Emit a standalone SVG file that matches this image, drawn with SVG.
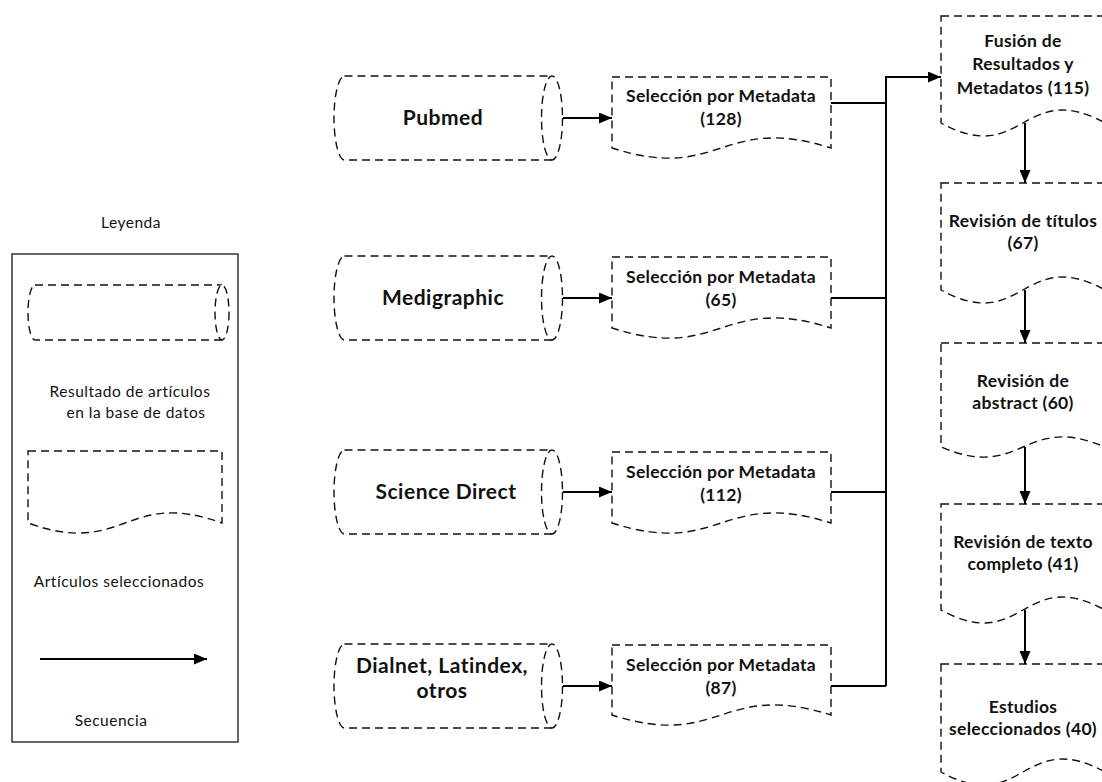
<svg xmlns="http://www.w3.org/2000/svg" width="1102" height="782" viewBox="0 0 1102 782">
<style>
.sh{fill:#fff;stroke:#111;stroke-width:1.4;stroke-dasharray:8 5}
.cn{fill:none;stroke:#000;stroke-width:2}
.t{font-family:Lato,"Liberation Sans",sans-serif;fill:#111;text-anchor:middle}
.b{font-weight:bold;font-size:17.5px;letter-spacing:0.3px}
.big{font-weight:bold;font-size:21px;letter-spacing:0.5px}
.r{font-size:15.5px;letter-spacing:0.5px}
</style>
<defs>
<marker id="ah" markerUnits="userSpaceOnUse" markerWidth="13" markerHeight="11" refX="13" refY="5.5" orient="auto">
<path d="M0,0 L13,5.5 L0,11 z" fill="#000"/>
</marker>
</defs>
<rect width="1102" height="782" fill="#fff"/>

<g id="legend">
<rect x="12" y="254" width="226" height="488" fill="#fff" stroke="#333" stroke-width="1.5"/>
<text class="t r" x="131" y="228">Leyenda</text>
<path class="sh" d="M35,285 H222 M222,340 H35 A7,27.5 0 0 1 35,285"/>
<ellipse class="sh" cx="222" cy="312.5" rx="7" ry="27.5" fill="none"/>
<text class="t r" x="130" y="397">Resultado de artículos</text>
<text class="t r" x="136" y="418">en la base de datos</text>
<path class="sh" d="M28,451 H222 V523 C125,488 125,558 28,523 Z"/>
<text class="t r" x="119" y="587">Artículos seleccionados</text>
<line class="cn" x1="40" y1="659" x2="207" y2="659" marker-end="url(#ah)"/>
<text class="t r" x="111" y="726">Secuencia</text>
</g>

<g id="db-pubmed">
<path class="sh" d="M344.5,76 H552 M552,160 H344.5 A10.5,42 0 0 1 344.5,76"/>
<ellipse class="sh" cx="552" cy="118" rx="10.5" ry="42"/>
<text class="t big" x="443" y="125">Pubmed</text>
</g>
<g id="db-medigraphic">
<path class="sh" d="M344.5,256 H552 M552,340 H344.5 A10.5,42 0 0 1 344.5,256"/>
<ellipse class="sh" cx="552" cy="298" rx="10.5" ry="42"/>
<text class="t big" x="443" y="305">Medigraphic</text>
</g>
<g id="db-science">
<path class="sh" d="M344.5,450 H552 M552,534 H344.5 A10.5,42 0 0 1 344.5,450"/>
<ellipse class="sh" cx="552" cy="492" rx="10.5" ry="42"/>
<text class="t big" x="446" y="499">Science Direct</text>
</g>
<g id="db-dialnet">
<path class="sh" d="M344.5,644 H552 M552,728 H344.5 A10.5,42 0 0 1 344.5,644"/>
<ellipse class="sh" cx="552" cy="686" rx="10.5" ry="42"/>
<text class="t big" x="442" y="673">Dialnet, Latindex,</text>
<text class="t big" x="442" y="698">otros</text>
</g>

<g id="sel-1">
<path class="sh" d="M612,77 H831 V148 C721,113 721,183 612,148 Z"/>
<text class="t b" x="721" y="102">Selección por Metadata</text>
<text class="t b" x="721" y="125">(128)</text>
</g>
<g id="sel-2">
<path class="sh" d="M612,257 H831 V328 C721,293 721,363 612,328 Z"/>
<text class="t b" x="721" y="283">Selección por Metadata</text>
<text class="t b" x="721" y="306">(65)</text>
</g>
<g id="sel-3">
<path class="sh" d="M612,452 H831 V523 C721,488 721,558 612,523 Z"/>
<text class="t b" x="721" y="478">Selección por Metadata</text>
<text class="t b" x="721" y="501">(112)</text>
</g>
<g id="sel-4">
<path class="sh" d="M612,645 H831 V715 C721,680 721,750 612,715 Z"/>
<text class="t b" x="721" y="671">Selección por Metadata</text>
<text class="t b" x="721" y="694">(87)</text>
</g>

<g id="fusion">
<path class="sh" d="M941,16 H1105 V123 C1023,78 1023,168 941,123 Z"/>
<text class="t b" x="1023" y="47">Fusión de</text>
<text class="t b" x="1023" y="70">Resultados y</text>
<text class="t b" x="1023" y="94">Metadatos (115)</text>
</g>
<g id="titulos">
<path class="sh" d="M941,183 H1105 V290 C1023,245 1023,335 941,290 Z"/>
<text class="t b" x="1023" y="227">Revisión de títulos</text>
<text class="t b" x="1023" y="249">(67)</text>
</g>
<g id="abstract">
<path class="sh" d="M941,343 H1105 V447 C1023,412 1023,482 941,447 Z"/>
<text class="t b" x="1023" y="387">Revisión de</text>
<text class="t b" x="1023" y="409">abstract (60)</text>
</g>
<g id="texto">
<path class="sh" d="M941,504 H1105 V610 C1023,565 1023,655 941,610 Z"/>
<text class="t b" x="1023" y="548">Revisión de texto</text>
<text class="t b" x="1023" y="570">completo (41)</text>
</g>
<g id="estudios">
<path class="sh" d="M941,664 H1105 V772 C1023,727 1023,817 941,772 Z"/>
<text class="t b" x="1023" y="713">Estudios</text>
<text class="t b" x="1023" y="735">seleccionados (40)</text>
</g>

<g id="connectors">
<line class="cn" x1="563" y1="118" x2="612" y2="118" marker-end="url(#ah)"/>
<line class="cn" x1="563" y1="298" x2="612" y2="298" marker-end="url(#ah)"/>
<line class="cn" x1="563" y1="492" x2="612" y2="492" marker-end="url(#ah)"/>
<line class="cn" x1="563" y1="686" x2="612" y2="686" marker-end="url(#ah)"/>
<path class="cn" d="M831,103 H886 M831,298 H886 M831,492 H886 M831,686 H886 M886,686 V77"/>
<line class="cn" x1="885" y1="77" x2="941" y2="77" marker-end="url(#ah)"/>
<line class="cn" x1="1025" y1="123" x2="1025" y2="183" marker-end="url(#ah)"/>
<line class="cn" x1="1025" y1="290" x2="1025" y2="343" marker-end="url(#ah)"/>
<line class="cn" x1="1025" y1="447" x2="1025" y2="504" marker-end="url(#ah)"/>
<line class="cn" x1="1025" y1="610" x2="1025" y2="664" marker-end="url(#ah)"/>
</g>
</svg>
